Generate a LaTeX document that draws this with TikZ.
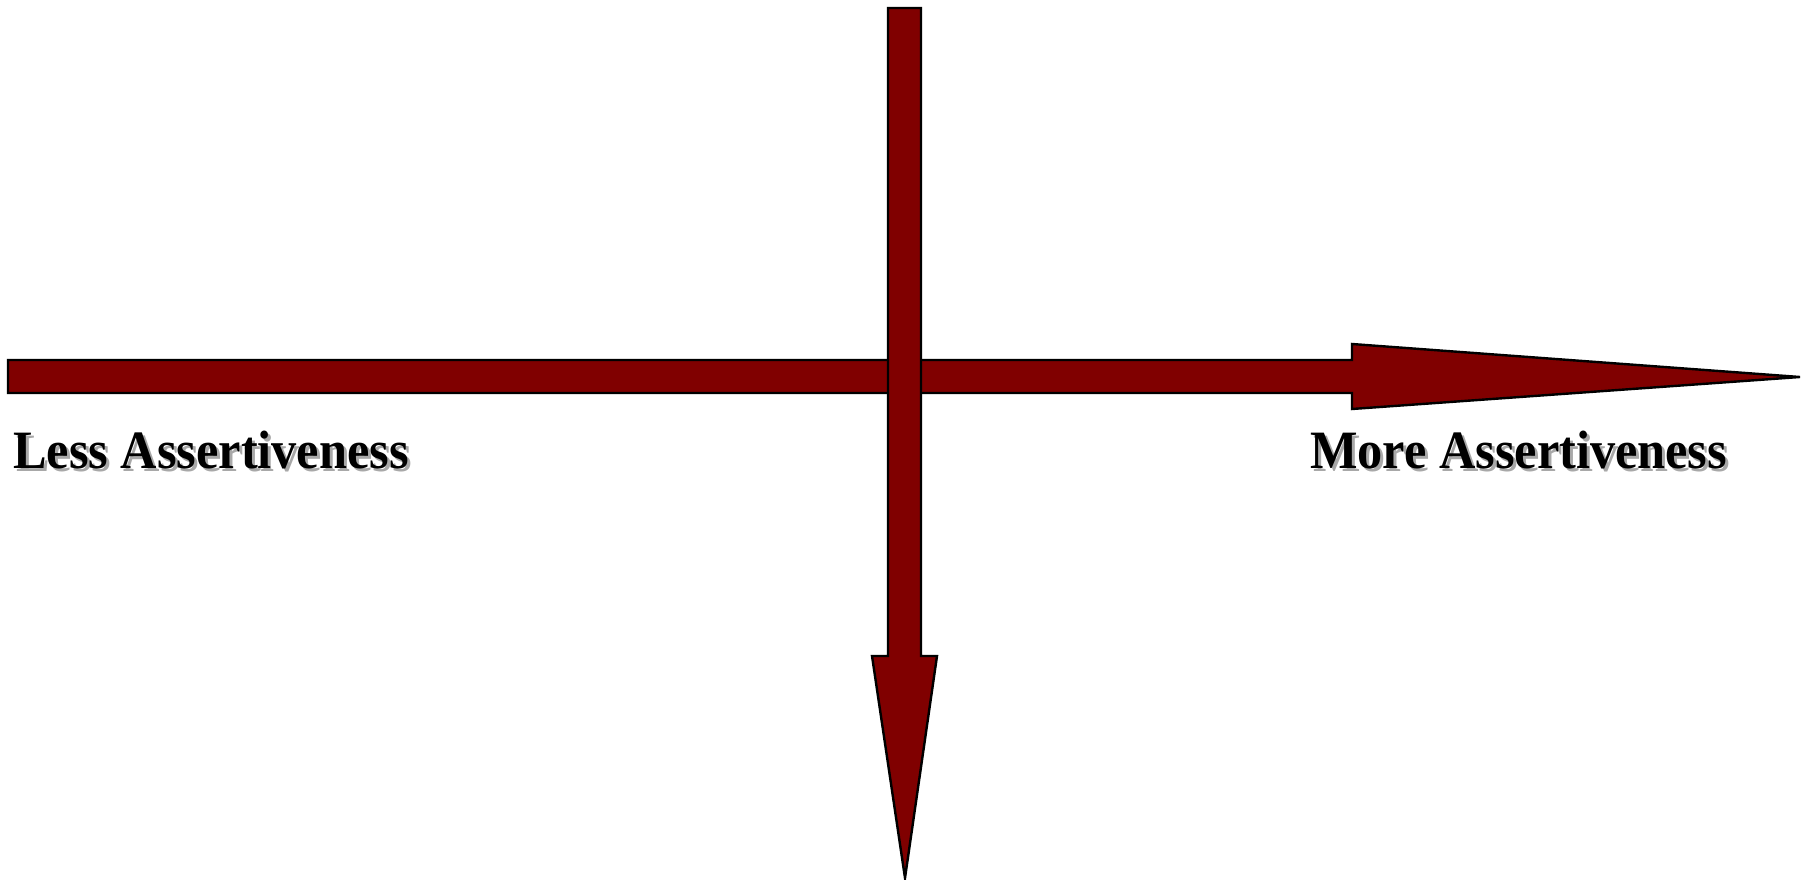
\documentclass[tikz,border=0pt]{standalone}
\usepackage{fontspec}
\setmainfont{Liberation Serif}
\definecolor{arrowred}{HTML}{800000}
\definecolor{shadowgray}{HTML}{A8A8A8}
\tikzset{
  fatarrow/.style={fill=arrowred, draw=black, line width=2.4pt, line join=miter},
  axislabel/.style={font=\fontsize{54}{60}\selectfont\bfseries, inner sep=0pt, anchor=base west, xscale=0.932, transform shape},
  labelshadow/.style={axislabel, text=shadowgray},
}
\begin{document}
\begin{tikzpicture}[x=1pt,y=-1pt]
\useasboundingbox (0,0) rectangle (1811,880);
% horizontal arrow
\draw[fatarrow] (8,360) -- (1352,360) -- (1352,344) -- (1800,377) -- (1352,409) -- (1352,393) -- (8,393) -- cycle;
% vertical arrow
\draw[fatarrow] (888,8) -- (921,8) -- (921,656) -- (937,656) -- (905,878) -- (872,656) -- (888,656) -- cycle;
% labels
\node[labelshadow] (lessS) at (16,471) {Less Assertiveness};
\node[axislabel] (less) at (13,468) {Less Assertiveness};
\node[labelshadow] (moreS) at (1313,471) {More Assertiveness};
\node[axislabel] (more) at (1310,468) {More Assertiveness};
\end{tikzpicture}
\end{document}
